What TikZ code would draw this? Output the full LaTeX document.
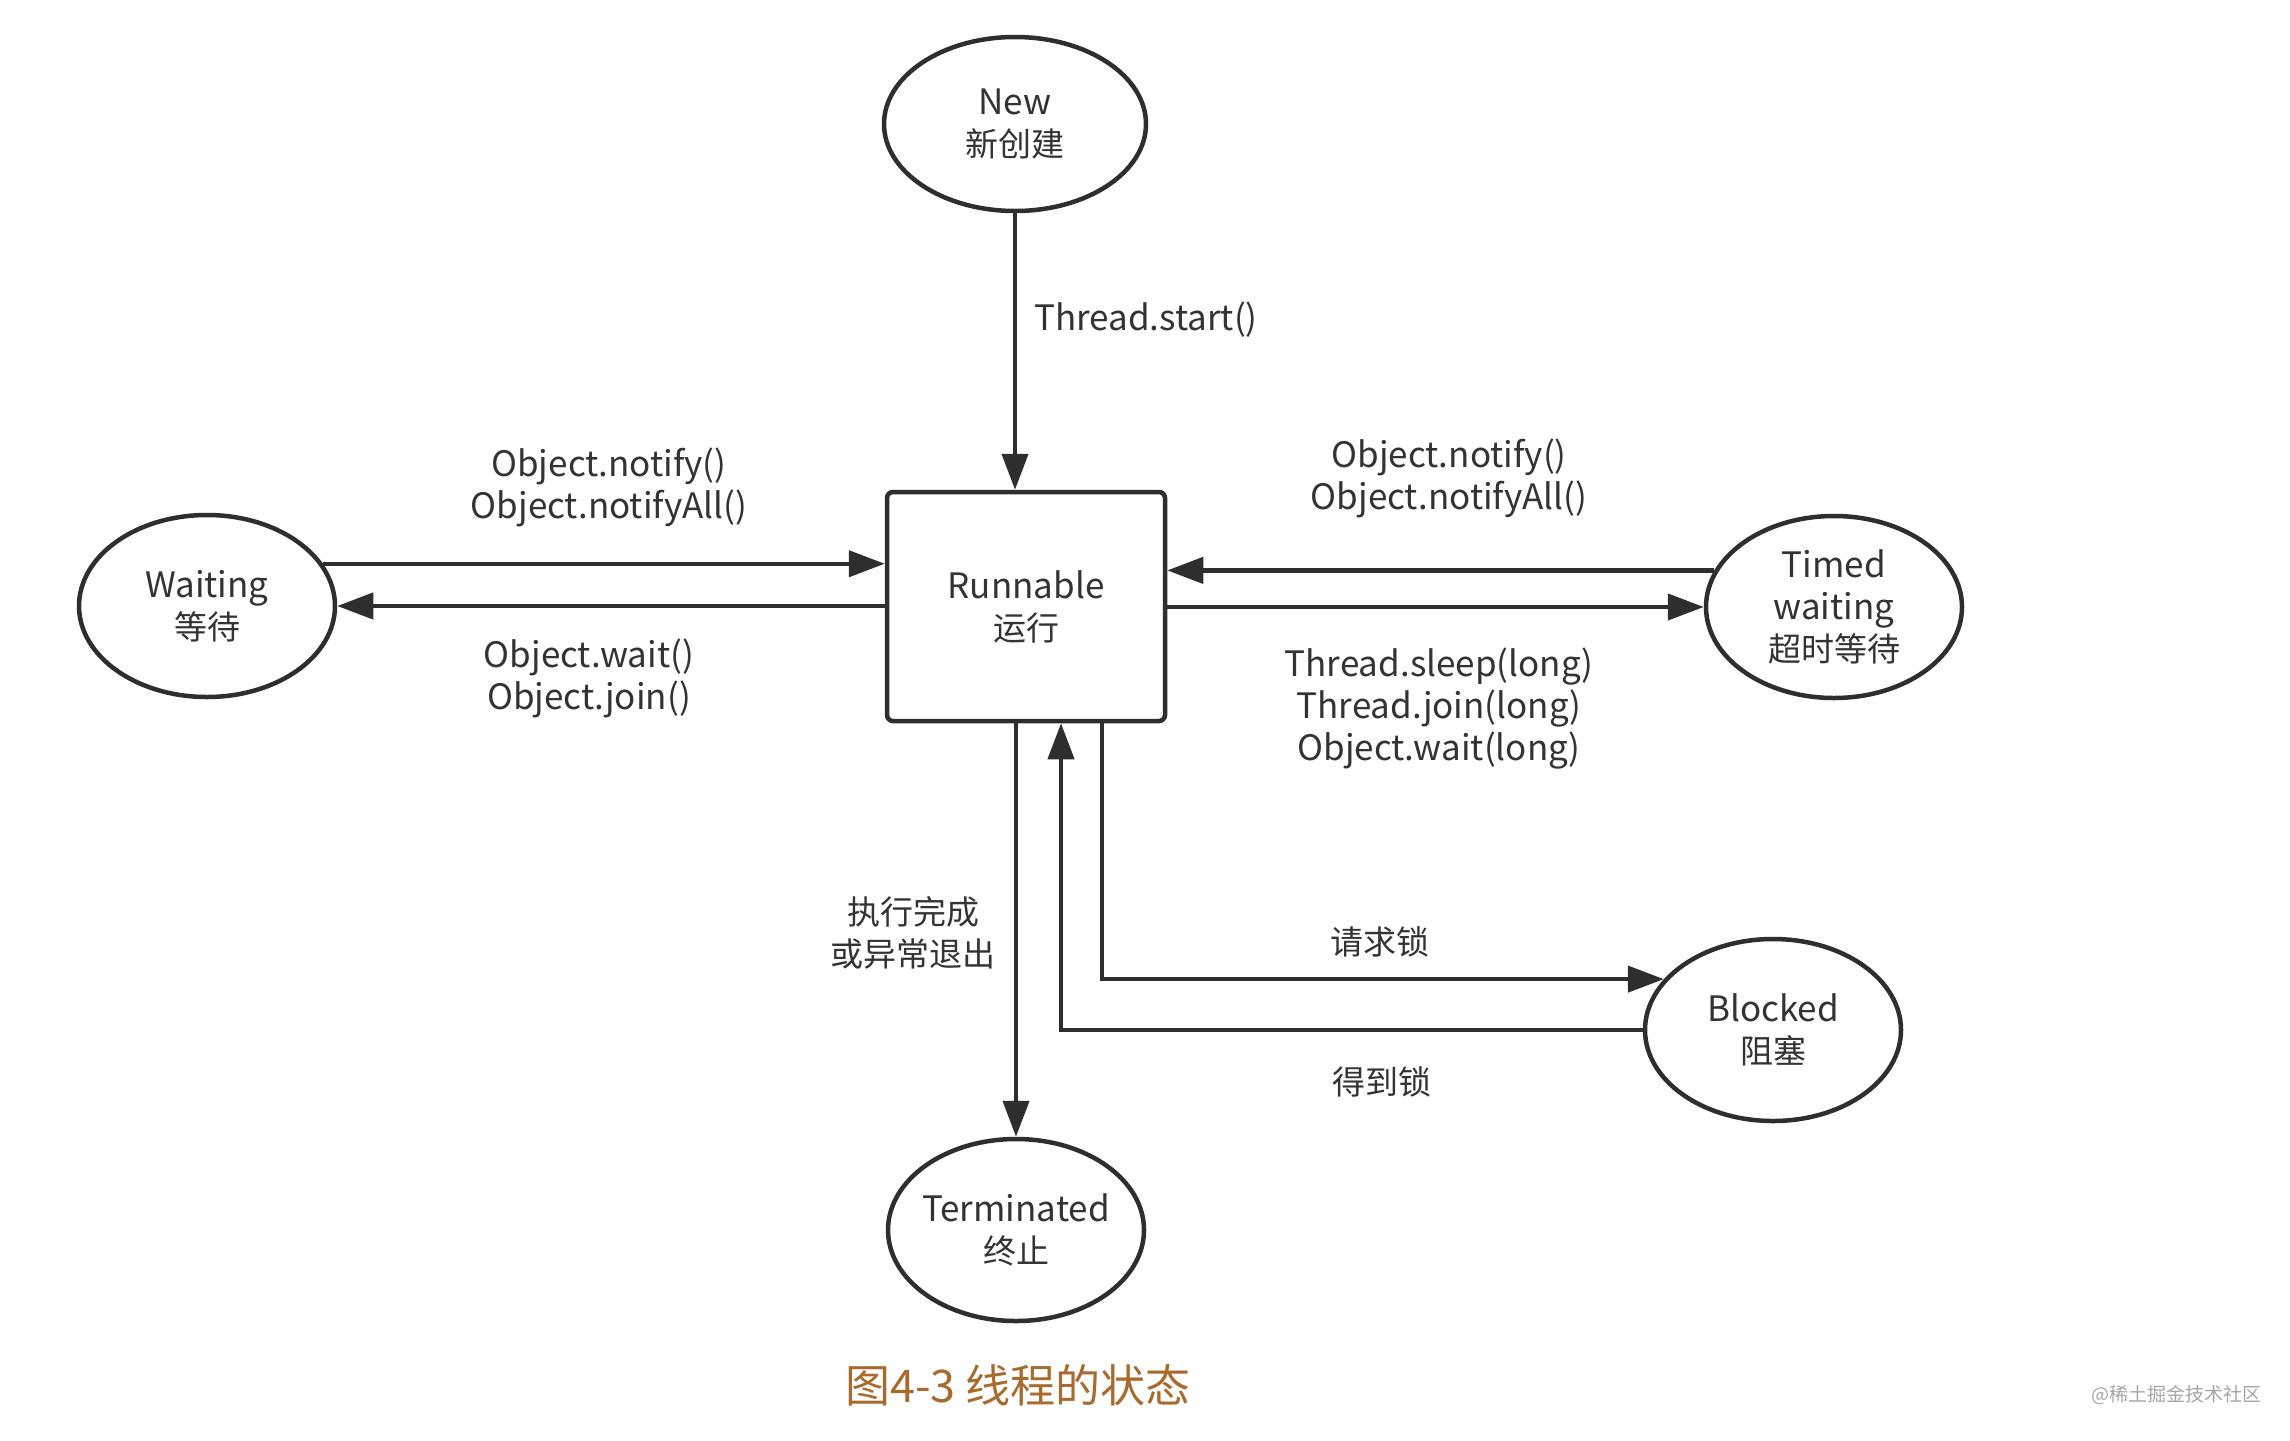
\documentclass[tikz,border=0pt]{standalone}
\usepackage{fontspec}
\setmainfont{Noto Sans CJK SC}
\usetikzlibrary{arrows.meta,shapes.geometric}
\definecolor{ink}{HTML}{2E2E2E}
\definecolor{txt}{HTML}{333333}
\definecolor{capbrown}{HTML}{A86B2D}
\newcommand{\zhs}{\fontsize{33}{42}\selectfont}
\begin{document}
\begin{tikzpicture}[x=1pt,y=-1pt,
  state/.style={ellipse, draw=ink, line width=4.5pt, inner sep=-40pt, align=center, text=txt, font=\fontsize{35}{42}\selectfont},
  runbox/.style={rectangle, draw=ink, line width=4.5pt, rounded corners=6pt, minimum width=278pt, minimum height=229pt, align=center, text=txt, font=\fontsize{35}{42}\selectfont},
  arr/.style={draw=ink, line width=4.3pt, -{Triangle[length=36pt,width=26pt]}},
  lbl/.style={text=txt, align=center, font=\fontsize{35}{42}\selectfont, inner sep=0pt},
  lblzh/.style={text=txt, align=center, font=\zhs, inner sep=0pt},
]
\fill[white] (0,0) rectangle (2290,1440);
\useasboundingbox (0,0) rectangle (2290,1440);

% states
\node[state, minimum width=262pt, minimum height=174pt] (N) at (1015,124) {New\\{\zhs 新创建}};
\node[runbox] (R) at (1026,606.5) {Runnable\\{\zhs 运行}};
\node[state, minimum width=256pt, minimum height=182pt] (W) at (207,606) {Waiting\\{\zhs 等待}};
\node[state, minimum width=256pt, minimum height=182pt] (TW) at (1834,607) {Timed\\waiting\\{\zhs 超时等待}};
\node[state, minimum width=256pt, minimum height=182pt] (B) at (1773,1030) {Blocked\\{\zhs 阻塞}};
\node[state, minimum width=256pt, minimum height=182pt] (Tm) at (1016,1230) {Terminated\\{\zhs 终止}};

% connectors
\draw[arr] (N.south) -- (N.south |- R.north);
\draw[arr] (W.20) -- (W.20 -| R.west);
\draw[arr] (W.east -| R.west) -- (W.east);
\draw[arr] (TW.163) -- (TW.163 -| R.east);
\draw[arr] (R.east |- TW.west) -- (TW.west);
\draw[arr] (R.south -| Tm.north) -- (Tm.north);
\draw[arr] ([xshift=76pt]R.south) |- (B.155);
\draw[arr] (B.west) -| ([xshift=35pt]R.south);

% labels
\node[lbl, anchor=west] (lstart) at (1034,320) {Thread.start()};
\node[lbl] (lw1) at (609,487) {Object.notify()\\Object.notifyAll()};
\node[lbl] (lw2) at (589,678) {Object.wait()\\Object.join()};
\node[lbl] (lt1) at (1449,478) {Object.notify()\\Object.notifyAll()};
\node[lbl] (lt2) at (1439,709) {Thread.sleep(long)\\Thread.join(long)\\Object.wait(long)};
\node[lblzh] (lend) at (913,933) {执行完成\\或异常退出};
\node[lblzh] (lreq) at (1380,942) {请求锁};
\node[lblzh] (lget) at (1382,1082) {得到锁};

% caption and watermark
\node[text=capbrown, font=\fontsize{45}{50}\selectfont, inner sep=0pt] (cap) at (1018,1385) {图4-3 线程的状态};
\node[text=gray!70, font=\fontsize{19}{22}\selectfont, inner sep=0pt] (wm) at (2176,1395) {@稀土掘金技术社区};
\end{tikzpicture}
\end{document}
